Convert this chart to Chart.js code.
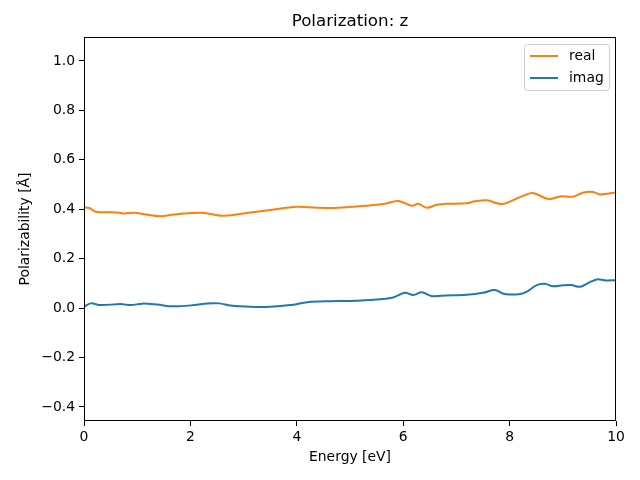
<!DOCTYPE html>
<html><head><meta charset="utf-8">
<script src="https://cdn.jsdelivr.net/npm/chart.js@4"></script>
<style>html,body{margin:0;padding:0;background:#fff}#wrap{width:640px;height:480px}</style>
</head><body><div id="wrap"><canvas id="c" width="640" height="480"></canvas></div>
<script>
const realEnergy = [0,0.1,0.22,0.63,0.75,0.94,1.13,1.44,1.82,2.22,2.63,3.13,3.5,4.0,4.38,4.7,5.07,5.63,5.91,6.16,6.28,6.44,6.63,6.81,7.19,7.35,7.57,7.85,8.07,8.26,8.44,8.73,8.95,9.2,9.39,9.57,9.7,10];
const realValues = [0.408,0.405,0.39,0.387,0.383,0.386,0.38,0.372,0.382,0.386,0.374,0.387,0.397,0.41,0.406,0.405,0.41,0.421,0.433,0.414,0.422,0.406,0.418,0.422,0.424,0.432,0.436,0.421,0.437,0.455,0.466,0.441,0.452,0.451,0.468,0.47,0.46,0.468];
const imagEnergy = [0,0.125,0.31,0.69,0.88,1.1,1.38,1.66,2.07,2.32,2.54,2.76,3.13,3.5,3.88,4.2,4.64,5.0,5.5,5.81,6.03,6.19,6.35,6.53,6.81,7.19,7.5,7.72,7.91,8.2,8.35,8.5,8.66,8.82,9.0,9.16,9.32,9.48,9.64,9.8,10];
const imagValues = [0.005,0.019,0.012,0.016,0.012,0.018,0.014,0.007,0.012,0.019,0.019,0.01,0.005,0.005,0.012,0.024,0.028,0.029,0.035,0.043,0.062,0.053,0.064,0.049,0.051,0.054,0.062,0.073,0.057,0.057,0.07,0.092,0.098,0.088,0.092,0.093,0.086,0.102,0.116,0.112,0.113];
const xTicks = [0,2,4,6,8,10];
const yTicks = [-0.4,-0.2,0.0,0.2,0.4,0.6,0.8,1.0];
const seriesNames = ['real','imag'];
const seriesColors = ['#ff7f0e','#1f77b4'];
const titleText = 'Polarization: z';
const xLabel = 'Energy [eV]';
const yLabel = 'Polarizability [Å]';

const FONT = 'DejaVu Sans';
const pts = (xs, ys) => xs.map((x,i)=>({x:x,y:ys[i]}));

const deco = {
  id:'deco',
  afterDraw(chart){
    const ctx = chart.ctx, a = chart.chartArea;
    ctx.save();
    ctx.strokeStyle = '#000'; ctx.lineWidth = 1;
    ctx.strokeRect(Math.round(a.left)+0.5, Math.round(a.top)+0.5, Math.round(a.right-a.left)-1, Math.round(a.bottom-a.top)-1);
    ctx.fillStyle = '#000';
    ctx.textAlign = 'center'; ctx.textBaseline = 'middle';
    ctx.font = '16.7px "'+FONT+'"';
    ctx.fillText(titleText, (a.left+a.right)/2, 22);
    ctx.font = '13.9px "'+FONT+'"';
    ctx.fillText(xLabel, (a.left+a.right)/2, 457);
    ctx.translate(25, (a.top+a.bottom)/2);
    ctx.rotate(-Math.PI/2);
    ctx.fillText(yLabel, 0, 0);
    ctx.restore();
    // legend
    ctx.save();
    const lx = 524.5, ly = 44.5, lw = 85, lh = 46;
    ctx.fillStyle = 'rgba(255,255,255,0.8)';
    ctx.strokeStyle = '#cccccc'; ctx.lineWidth = 1;
    ctx.beginPath();
    if (ctx.roundRect) ctx.roundRect(lx, ly, lw, lh, 3); else ctx.rect(lx, ly, lw, lh);
    ctx.fill(); ctx.stroke();
    ctx.font = '13.9px "'+FONT+'"';
    ctx.textAlign = 'left'; ctx.textBaseline = 'middle';
    seriesNames.forEach((n,i)=>{
      const yy = 56 + i*22;
      ctx.strokeStyle = seriesColors[i]; ctx.lineWidth = 2;
      ctx.beginPath(); ctx.moveTo(530, yy); ctx.lineTo(558, yy); ctx.stroke();
      ctx.fillStyle = '#000';
      ctx.fillText(n, 569, yy);
    });
    ctx.restore();
  }
};

new Chart(document.getElementById('c'), {
  type:'line',
  data:{datasets:[
    {label:seriesNames[0], data:pts(realEnergy, realValues), borderColor:seriesColors[0], borderWidth:2, pointRadius:0, tension:0.35, fill:false},
    {label:seriesNames[1], data:pts(imagEnergy, imagValues), borderColor:seriesColors[1], borderWidth:2, pointRadius:0, tension:0.35, fill:false}
  ]},
  options:{
    responsive:false, animation:false, devicePixelRatio:1,
    layout:{padding:{top:37,right:24,left:0,bottom:0}},
    plugins:{legend:{display:false}, title:{display:false}, tooltip:{enabled:false}},
    scales:{
      x:{type:'linear', min:0, max:10,
        afterBuildTicks(s){ s.ticks = xTicks.map(v=>({value:v})); },
        afterFit(s){ s.height = 59; },
        grid:{drawOnChartArea:false, drawTicks:true, tickLength:5, color:'#000'},
        border:{display:false},
        ticks:{color:'#000', padding:3, maxRotation:0, font:{family:FONT, size:13.9}, callback:v=>String(v)}
      },
      y:{type:'linear', min:-0.457, max:1.097,
        afterBuildTicks(s){ s.ticks = yTicks.map(v=>({value:v})); },
        afterFit(s){ s.width = 84; },
        grid:{drawOnChartArea:false, drawTicks:true, tickLength:5, color:'#000'},
        border:{display:false},
        ticks:{color:'#000', padding:4, font:{family:FONT, size:13.9}, callback:v=>(v<0?'\u2212':'')+Math.abs(v).toFixed(1)}
      }
    }
  },
  plugins:[deco]
});
</script></body></html>
